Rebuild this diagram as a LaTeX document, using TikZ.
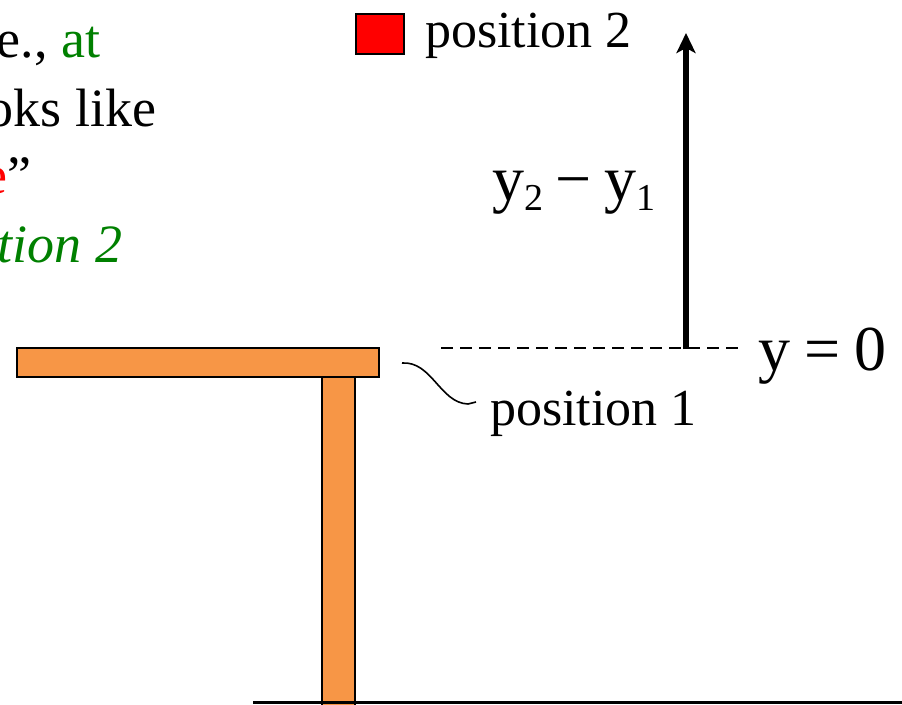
\documentclass[tikz,border=0pt]{standalone}
\usepackage{fontspec}
\setmainfont{Liberation Serif}
\usetikzlibrary{arrows.meta}
\definecolor{tgreen}{RGB}{0,128,0}
\definecolor{torange}{RGB}{247,150,70}
\begin{document}
\begin{tikzpicture}[x=1pt,y=-1pt,
  txt/.style={inner sep=0pt, outer sep=0pt},
  bigtxt/.style={txt, font=\fontsize{54}{60}\selectfont},
  postxt/.style={txt, font=\fontsize{52}{58}\selectfont, anchor=base west},
  eqtxt/.style={txt, font=\fontsize{64}{70}\selectfont, anchor=base west},
  wood/.style={fill=torange, draw=black, line width=2.2pt}]
\useasboundingbox (0,0) rectangle (902,704);
\clip (0,0) rectangle (902,704);
% left text fragments
\node[bigtxt, anchor=base east] (l1) at (100,57) {e., \textcolor{tgreen}{at}};
\node[bigtxt, anchor=base east] (l2) at (156,126) {oks like};
\node[bigtxt, anchor=base east] (l3) at (31,193) {\textcolor{red}{e}”};
\node[bigtxt, anchor=base east] (l4) at (122,262) {\textcolor{tgreen}{\itshape tion 2}};
% table
\draw[wood] (322,377) rectangle (355,712);
\draw[wood] (17,348) rectangle (379,377);
\coordinate (tablecorner) at (402,363);
% ground
\coordinate (gl) at (253,702);
\coordinate (gr) at (910,702);
\draw[line width=3pt] (gl) -- (gr);
% legend
\node[draw=black, line width=2.4pt, fill=red, minimum width=48pt, minimum height=40pt, inner sep=0pt] (sq) at (380,34) {};
\node[postxt] (p2) at (425,47) {position 2};
% position 1 label
\node[postxt] (p1) at (490,425) {position 1};
\draw[line width=1.6pt] (tablecorner) .. controls (432,361) and (440,403) .. (468,404) -- (476,402);
% y=0 line
\coordinate (dl) at (441,348);
\coordinate (dr) at (738,348);
\draw[line width=1.8pt, dash pattern=on 12pt off 7pt] (dl) -- (dr);
\node[eqtxt] (y0) at (758,370) {y\hspace{0.22em}=\hspace{0.22em}0};
% arrow
\coordinate (ab) at (686,349);
\coordinate (at) at (686,33);
\draw[line width=5.5pt, -{Stealth[length=20pt,width=19pt,inset=5pt]}] (ab) -- (at);
\node[eqtxt] (dy) at (492,200) {y\raisebox{-0.17em}{\fontsize{38}{40}\selectfont 2}\hspace{0.2em}−\hspace{0.2em}y\raisebox{-0.17em}{\fontsize{38}{40}\selectfont 1}};
\end{tikzpicture}
\end{document}
